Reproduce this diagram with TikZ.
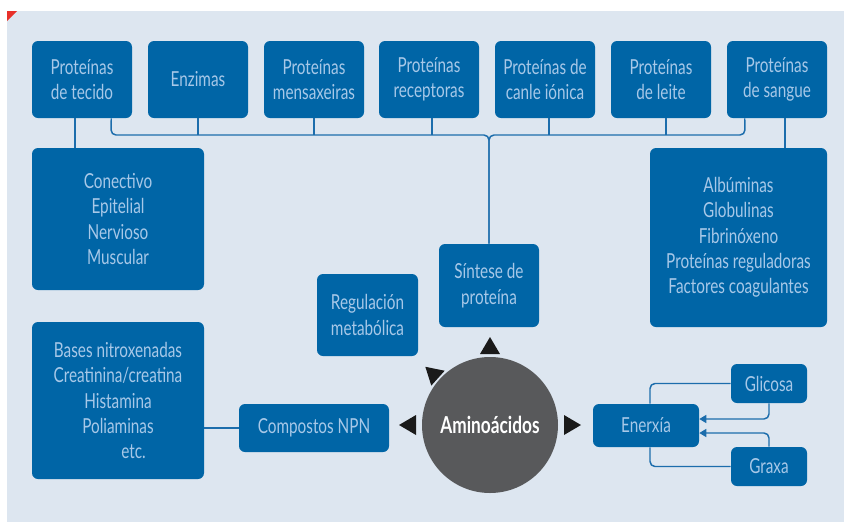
\documentclass[tikz,border=0pt]{standalone}
\usepackage{fontspec}
\setmainfont{Lato}[FakeStretch=0.74]
\usetikzlibrary{arrows.meta, calc}
\definecolor{fondo}{HTML}{DDE6F0}
\definecolor{azul}{HTML}{0065A6}
\definecolor{claro}{HTML}{A7C8E8}
\definecolor{trazo}{HTML}{1C6DAC}
\definecolor{gris}{HTML}{58595B}
\definecolor{escuro}{HTML}{1A1A1A}
\definecolor{alerta}{HTML}{E8302A}
\newdimen\px \px=0.75pt

\begin{document}
\begin{tikzpicture}[x=0.75pt, y=-0.75pt, font=\fontsize{15.5}{19}\selectfont,
		caja/.style={fill=azul, text=claro, rounded corners=6\px, align=center, inner sep=0pt},
		conector/.style={draw=trazo, line width=1.1pt, rounded corners=5\px}]
				\useasboundingbox (0,0) rectangle (844,522);
				\fill[fondo] (7,11) rectangle (844,522);
				\fill[alerta] (7,11) -- (17,11) -- (7,21) -- cycle;
				% fila superior
				\foreach \nome/\cx/\texto in {tecido/82/{Proteínas\\de tecido}, enzimas/198/Enzimas,
						mensaxeiras/314/{Proteínas\\mensaxeiras}, receptoras/429/{Proteínas\\receptoras},
						canle/545/{Proteínas de\\canle iónica}, leite/661/{Proteínas\\de leite},
						sangue/777/{Proteínas\\de sangue}}
					\node[caja, minimum width=100\px, minimum height=77\px] (\nome) at (\cx,79.5) {\texto};
				\node[caja, minimum width=172\px, minimum height=142\px] (tecidos) at (118,219)
					{Conectivo\\Epitelial\\Nervioso\\Muscular};
				\node[caja, minimum width=177\px, minimum height=179\px] (sanguelista) at (738.5,237.5)
					{Albúminas\\Globulinas\\Fibrinóxeno\\Proteínas reguladoras\\Factores coagulantes};
				\node[caja, minimum width=100\px, minimum height=83\px] (sintese) at (489,285.5) {Síntese de\\proteína};
				\node[caja, minimum width=101\px, minimum height=82\px] (regulacion) at (367.5,315) {Regulación\\metabólica};
				\node[caja, minimum width=172\px, minimum height=157\px] (npnlista) at (118,400.5)
					{Bases nitroxenadas\\Creatinina/creatina\\Histamina\\Poliaminas\\\hspace*{1.5em}etc.};
				\node[caja, minimum width=150\px, minimum height=48\px] (npn) at (314,428) {Compostos NPN};
				\node[circle, fill=gris, minimum size=136\px, inner sep=0pt, text=white,
					font=\fontsize{17.5}{20}\selectfont\bfseries] (amino) at (490,425) {Aminoácidos};
				\node[caja, minimum width=106\px, minimum height=43\px] (enerxia) at (646,425.5) {Enerxía};
				\node[caja, minimum width=76\px, minimum height=39\px] (glicosa) at (769,383.5) {Glicosa};
				\node[caja, minimum width=76\px, minimum height=39\px] (graxa) at (769,466.5) {Graxa};
				% liñas
				\coordinate (bi) at (111,135);
				\coordinate (bd) at (745,135);
				\draw[conector] ([xshift=-21\px]tecido.south east) -- (bi) -- (sintese.north |- bi) -- (sintese.north);
				\draw[conector] ([xshift=18\px]sangue.south west) -- (bd) -- (sintese.north |- bd) -- (sintese.north);
				\foreach \nome/\d in {enzimas/0, mensaxeiras/0, receptoras/3, canle/4, leite/5}
					\draw[conector] ([xshift=\d\px]\nome.south) -- ([xshift=\d\px]\nome.south |- bi);
				\draw[conector] ([xshift=-7\px]tecido.south) -- ([xshift=-7\px]tecido.south |- tecidos.north);
				\draw[conector] ([xshift=8\px]sangue.south) -- ([xshift=8\px]sangue.south |- sanguelista.north);
				\draw[conector] (npn.west) -- (npn.west -| npnlista.east);
				\draw[conector] (glicosa.west) -| ([xshift=4\px]enerxia.north);
				\draw[conector, -{Triangle[length=5.25pt, width=6pt]}] (glicosa.south) |- ([yshift=6.5\px]enerxia.east);
				\draw[conector, -{Triangle[length=5.25pt, width=6pt]}] (graxa.north) |- ([yshift=-7.5\px]enerxia.east);
				\draw[conector] ([xshift=4\px]enerxia.south) |- (graxa.west);
				% puntas arredor do círculo
				\foreach \ang/\r in {90/79, 138/78, 180/82, 0/82}
					\fill[escuro, shift={(amino.center)}, rotate=\ang] (\r+9,0) -- (\r-8,10) -- (\r-8,-10) -- cycle;
			\end{tikzpicture}
\end{document}
